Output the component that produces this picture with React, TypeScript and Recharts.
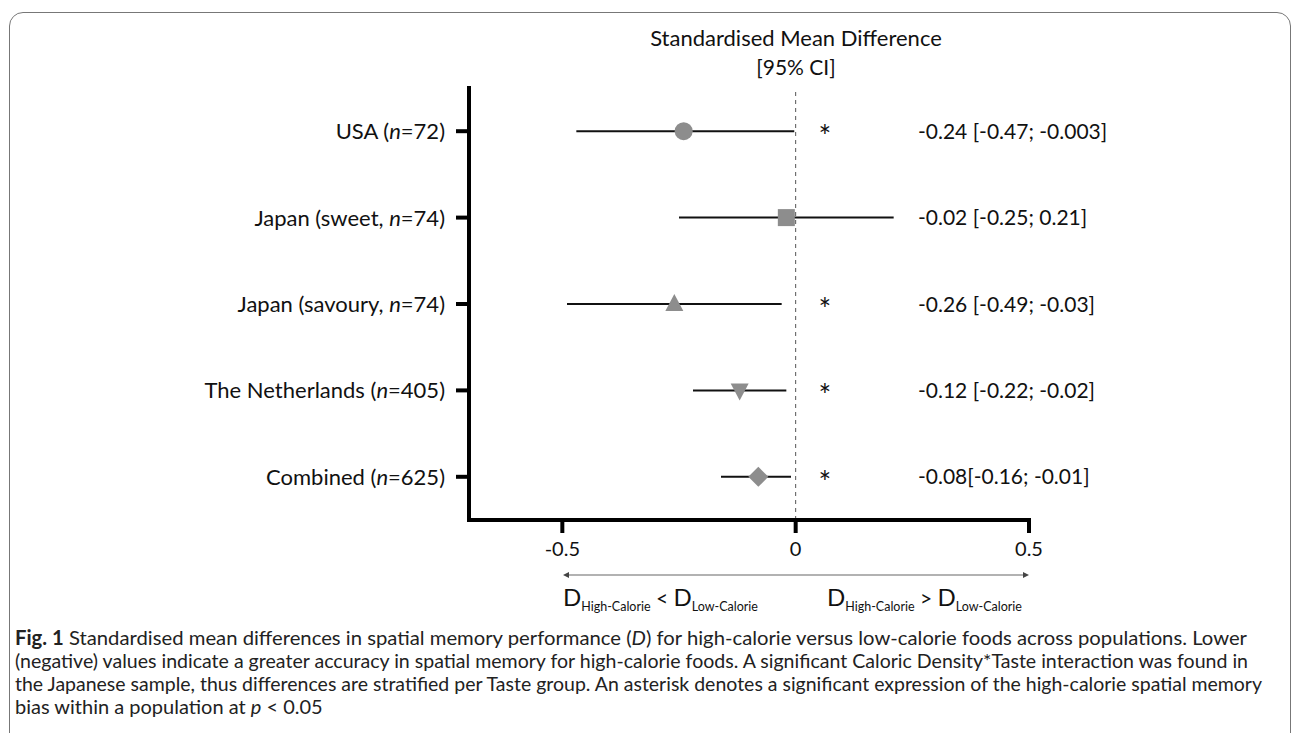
import React from "react";
import { ScatterChart, Scatter, XAxis, YAxis, ErrorBar, ReferenceLine } from "recharts";

// forest plot data, top row first
const groups = ["USA (", "Japan (sweet, ", "Japan (savoury, ", "The Netherlands (", "Combined ("];
const sampleSizes = [72, 74, 74, 405, 625];
const smd = [-0.24, -0.02, -0.26, -0.12, -0.08];
const ciLow = [-0.47, -0.25, -0.49, -0.22, -0.16];
const ciHigh = [-0.003, 0.21, -0.03, -0.02, -0.01];
const significant = [true, false, true, true, true];
const ciLabels = [
  "-0.24 [-0.47; -0.003]",
  "-0.02 [-0.25; 0.21]",
  "-0.26 [-0.49; -0.03]",
  "-0.12 [-0.22; -0.02]",
  "-0.08[-0.16; -0.01]",
];
const markers = ["circle", "square", "triangle", "triangleDown", "diamond"];
const xTicks = [-0.5, 0, 0.5];
const xTickLabels = ["-0.5", "0", "0.5"];
const rowTicks = [0, 1, 2, 3, 4];

const rows = groups.map((g, i) => ({
  row: i,
  smd: smd[i],
  err: [smd[i] - ciLow[i], ciHigh[i] - smd[i]],
  marker: markers[i],
}));

const FONT = "Lato, 'Open Sans', sans-serif";
const GREY = "#8d8d8d";

function Marker(props: any) {
  const { cx, cy, payload } = props;
  if (cx == null || cy == null) return <g />;
  switch (payload.marker) {
    case "circle":
      return <circle cx={cx} cy={cy} r={9} fill={GREY} />;
    case "square":
      return <rect x={cx - 8.5} y={cy - 8.5} width={17} height={17} fill={GREY} />;
    case "triangle":
      return <polygon points={`${cx},${cy - 10} ${cx + 9},${cy + 7} ${cx - 9},${cy + 7}`} fill={GREY} />;
    case "triangleDown":
      return <polygon points={`${cx - 9},${cy - 7} ${cx + 9},${cy - 7} ${cx},${cy + 10}`} fill={GREY} />;
    default:
      return <polygon points={`${cx},${cy - 10} ${cx + 10},${cy} ${cx},${cy + 10} ${cx - 10},${cy}`} fill={GREY} />;
  }
}

function RowTick(props: any) {
  const { x, y, payload } = props;
  const i = payload.value;
  return (
    <g fontFamily={FONT} fill="#111">
      <text x={x} y={y} dy={8} textAnchor="end" fontSize={22}>
        {groups[i]}
        <tspan fontStyle="italic">n</tspan>={sampleSizes[i]})
      </text>
      {significant[i] && (
        <text x={825} y={y} dy={16} textAnchor="middle" fontSize={30}>
          *
        </text>
      )}
      <text x={918} y={y} dy={7.5} fontSize={21}>
        {ciLabels[i]}
      </text>
    </g>
  );
}

function ValueTick(props: any) {
  const { x, y, payload } = props;
  const idx = xTicks.indexOf(payload.value);
  return (
    <text x={x} y={y} dy={23} textAnchor="middle" fontSize={20} fontFamily={FONT} fill="#111">
      {xTickLabels[idx]}
    </text>
  );
}

function Overlay() {
  const sub = 12.5;
  return (
    <svg width={1292} height={733} style={{ position: "absolute", left: 0, top: 0, pointerEvents: "none" }}>
      <g fontFamily={FONT} fill="#111">
        <text x={796} y={46} textAnchor="middle" fontSize={22}>
          Standardised Mean Difference
        </text>
        <text x={796} y={75} textAnchor="middle" fontSize={21}>
          [95% CI]
        </text>

        <line x1={565} y1={575} x2={1027} y2={575} stroke="#666" strokeWidth={1.2} />
        <polygon points="563,575 569,572 569,578" fill="#444" />
        <polygon points="1029,575 1023,572 1023,578" fill="#444" />

        <text x={563} y={606} fontSize={24}>
          D<tspan fontSize={sub} dy={5}>High-Calorie</tspan>
          <tspan fontSize={21} dy={-5}> &lt; </tspan>
          <tspan fontSize={24}>D</tspan>
          <tspan fontSize={sub} dy={5}>Low-Calorie</tspan>
        </text>
        <text x={827} y={606} fontSize={24}>
          D<tspan fontSize={sub} dy={5}>High-Calorie</tspan>
          <tspan fontSize={21} dy={-5}> &gt; </tspan>
          <tspan fontSize={24}>D</tspan>
          <tspan fontSize={sub} dy={5}>Low-Calorie</tspan>
        </text>
      </g>
      <g fontFamily={FONT} fill="#222" fontSize={20}>
        <text x={15} y={645} textLength={1232} lengthAdjust="spacingAndGlyphs">
          <tspan fontWeight="bold">Fig. 1</tspan>
          {"  Standardised mean differences in spatial memory performance ("}
          <tspan fontStyle="italic">D</tspan>
          {") for high-calorie versus low-calorie foods across populations. Lower"}
        </text>
        <text x={15} y={668} textLength={1233} lengthAdjust="spacingAndGlyphs">
          (negative) values indicate a greater accuracy in spatial memory for high-calorie foods. A significant Caloric
          Density*Taste interaction was found in
        </text>
        <text x={15} y={691} fontSize={19.4} textLength={1247} lengthAdjust="spacingAndGlyphs">
          the Japanese sample, thus differences are stratified per Taste group. An asterisk denotes a significant
          expression of the high-calorie spatial memory
        </text>
        <text x={15} y={714}>
          {"bias within a population at "}
          <tspan fontStyle="italic">p</tspan>
          {" < 0.05"}
        </text>
      </g>
    </svg>
  );
}

export default function App() {
  return (
    <div
      style={{
        position: "absolute",
        left: 0,
        top: 0,
        width: 1292,
        height: 733,
        overflow: "hidden",
        background: "#fff",
      }}
    >
      <div
        style={{
          position: "absolute",
          left: 9,
          top: 12,
          width: 1282,
          height: 800,
          boxSizing: "border-box",
          border: "1.5px solid #777",
          borderRadius: 14,
        }}
      />
      <div style={{ position: "absolute", left: 0, top: 0 }}>
        <ScatterChart width={1292} height={733} margin={{ top: 88, right: 263, bottom: 183, left: 269 }}>
          <XAxis
            type="number"
            dataKey="smd"
            domain={[-0.7, 0.5]}
            ticks={xTicks}
            height={30}
            tickSize={13}
            tickMargin={0}
            axisLine={{ stroke: "#000", strokeWidth: 4, strokeLinecap: "square" }}
            tickLine={{ stroke: "#000", strokeWidth: 4 }}
            tick={<ValueTick />}
          />
          <YAxis
            type="number"
            dataKey="row"
            domain={[-0.5, 4.5]}
            reversed
            ticks={rowTicks}
            interval={0}
            width={200}
            tickSize={13}
            tickMargin={11}
            axisLine={{ stroke: "#000", strokeWidth: 4, strokeLinecap: "square" }}
            tickLine={{ stroke: "#000", strokeWidth: 4 }}
            tick={<RowTick />}
          />
          <ReferenceLine x={0} stroke="#555" strokeWidth={1} strokeDasharray="4 4" />
          <Scatter data={rows} shape={<Marker />} isAnimationActive={false} />
          <Scatter data={rows} shape={() => <g />} isAnimationActive={false}>
            <ErrorBar dataKey="err" direction="x" width={0} stroke="#111" strokeWidth={2} />
          </Scatter>
        </ScatterChart>
      </div>
      <Overlay />
    </div>
  );
}
